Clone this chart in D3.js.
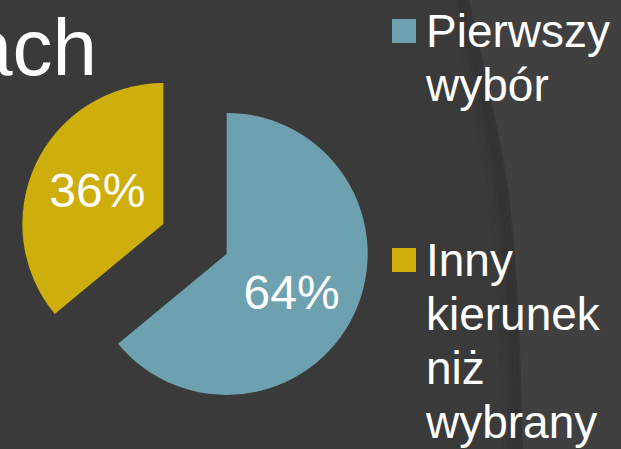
<!DOCTYPE html>
<html>
<head>
<meta charset="utf-8">
<script src="https://cdn.jsdelivr.net/npm/d3@7"></script>
<style>
	body { margin: 0; background: #3a3a3a; }
	svg { display: block; }
</style>
</head>
<body>
<svg id="chart" width="621" height="449"></svg>
<script>

var aLabels = ['Pierwszy wybór', 'Inny kierunek niż wybrany'];
var aLegendLines = [['Pierwszy', 'wybór'], ['Inny', 'kierunek', 'niż', 'wybrany']];
var aValues = [64, 36];
var aColors = ['#6ea1b0', '#cdae0a'];
var strTitle = 'ach';

var sSvg = d3.select('#chart');
var nWidth = 621, nHeight = 449;

// background with the soft curved panel on the right
var sDefs = sSvg.append('defs');
sDefs.append('filter').attr('id', 'blur')
	.append('feGaussianBlur').attr('stdDeviation', 4);

sSvg.append('rect')
	.attr('width', nWidth).attr('height', nHeight)
	.attr('fill', '#3a3a3a');

var aCurve = [[468, -5], [503, 150], [513, 220], [520, 330], [523, 455]];
var lineCurve = d3.line().curve(d3.curveBasis);

sSvg.append('path')
	.attr('d', lineCurve(aCurve))
	.attr('fill', 'none')
	.attr('stroke', '#303030')
	.attr('stroke-width', 12)
	.attr('transform', 'translate(-6,0)')
	.attr('filter', 'url(#blur)');

sSvg.append('path')
	.attr('d', lineCurve(aCurve) + 'L640,455L640,-5Z')
	.attr('fill', '#404040');

// title fragment
sSvg.append('text')
	.attr('x', 97).attr('y', 75)
	.attr('text-anchor', 'end')
	.attr('fill', '#ffffff')
	.style('font-family', 'Liberation Sans, Arial, sans-serif')
	.style('font-size', '80px')
	.text(strTitle);

// pie
var nRadius = 141;
var aCenter = [195, 239];
var nExplode = 35;

var pie = d3.pie().sort(null).value(function(d) { return d; });
var arc = d3.arc().innerRadius(0).outerRadius(nRadius);
var aArcs = pie(aValues);

var sPie = sSvg.append('g')
	.attr('transform', 'translate(' + aCenter[0] + ',' + aCenter[1] + ')');

var sSlices = sPie.selectAll('.slice')
	.data(aArcs)
	.enter()
		.append('g')
			.attr('class', 'slice')
			.attr('transform', function(d)
			{
				var fMid = (d.startAngle + d.endAngle) / 2;
				return 'translate(' + (Math.sin(fMid) * nExplode) + ',' + (-Math.cos(fMid) * nExplode) + ')';
			});

sSlices.append('path')
	.attr('d', arc)
	.attr('fill', function(d, i) { return aColors[i]; });

// label placement inside each slice (offset from the slice's own centre)
var aLabelOffset = [[65, 55], [-66, -17]];
sSlices.append('text')
	.attr('x', function(d, i) { return aLabelOffset[i][0]; })
	.attr('y', function(d, i) { return aLabelOffset[i][1]; })
	.attr('text-anchor', 'middle')
	.attr('fill', '#ffffff')
	.style('font-family', 'Liberation Sans, Arial, sans-serif')
	.style('font-size', '48px')
	.text(function(d) { return d.data + '%'; });

// legend
var aLegendY = [19, 248];
var sLegend = sSvg.selectAll('.legend')
	.data(aLabels)
	.enter()
		.append('g')
			.attr('class', 'legend')
			.attr('transform', function(d, i) { return 'translate(392,' + aLegendY[i] + ')'; });

sLegend.append('rect')
	.attr('width', 24).attr('height', 24)
	.attr('fill', function(d, i) { return aColors[i]; });

sLegend.each(function(d, i)
{
	var sText = d3.select(this).append('text')
		.attr('fill', '#ffffff')
		.style('font-family', 'Liberation Sans, Arial, sans-serif')
		.style('font-size', '46px');
	aLegendLines[i].forEach(function(strLine, n)
	{
		sText.append('tspan')
			.attr('x', 34)
			.attr('y', 28 + n * 54)
			.text(strLine);
	});
});

</script>
</body>
</html>
